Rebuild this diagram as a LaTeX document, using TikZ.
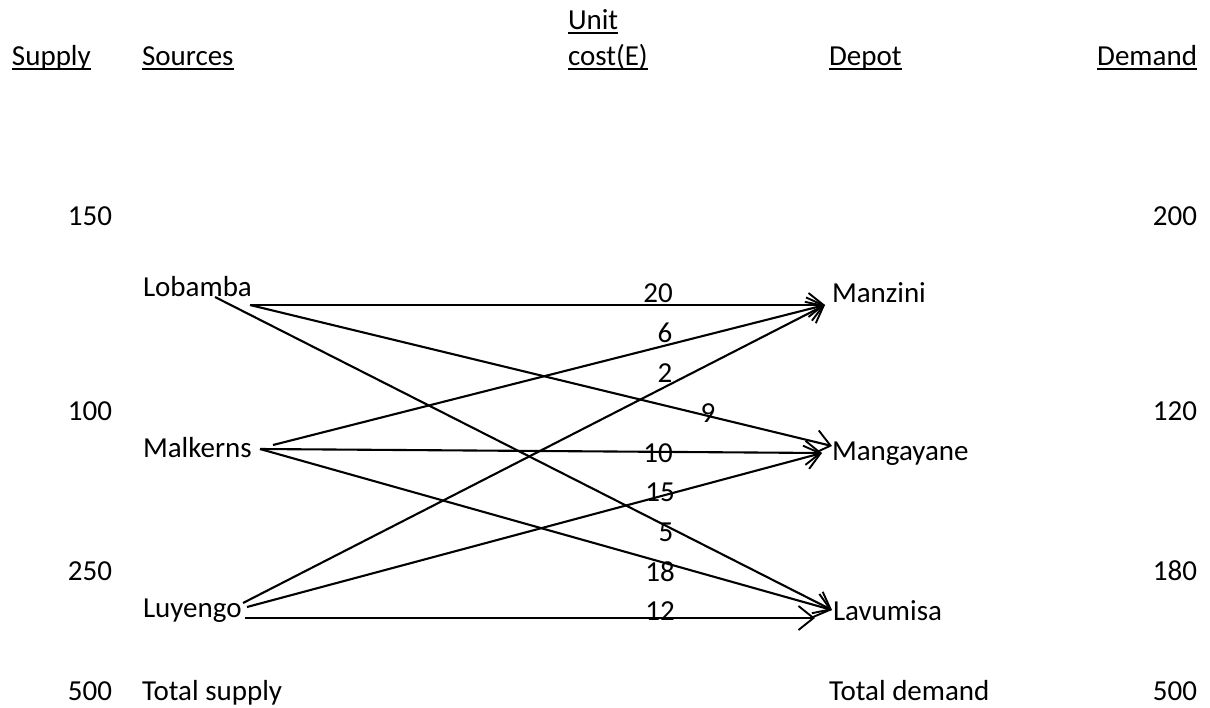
\documentclass[tikz,border=0pt]{standalone}
\usepackage{fontspec}
\setmainfont{Carlito}
\usetikzlibrary{arrows.meta}
\begin{document}
\begin{tikzpicture}[x=1pt,y=-1pt,
  every node/.style={inner sep=0pt, outer sep=0pt, font=\fontsize{29}{34}\selectfont},
  lbl/.style={anchor=base west},
  num/.style={anchor=base east},
  cost/.style={anchor=base},
  ulline/.style={line width=1.8pt},
  flow/.style={line width=2.1pt, -{Straight Barb[length=15pt,width=24pt,line width=1.9pt]}}]
\useasboundingbox (0,0) rectangle (1210,707);
% headers
\node[lbl] (hsup) at (12,65) {Supply};
\node[lbl] (hsrc) at (142,65) {Sources};
\node[lbl] (hunit) at (568,29) {Unit};
\node[lbl] (hcost) at (568,65) {cost(E)};
\node[lbl] (hdep) at (829,65) {Depot};
\node[num] (hdem) at (1197,65) {Demand};
\foreach \n in {hsup,hsrc,hunit,hcost,hdep,hdem}
  \draw[ulline] ([yshift=-4pt]\n.base west) -- ([yshift=-4pt]\n.base east);
% supply / demand numbers
\node[num] (s1) at (112,225) {150};
\node[num] (s2) at (112,420) {100};
\node[num] (s3) at (112,580) {250};
\node[num] (stot) at (112,700) {500};
\node[num] (d1) at (1197,225) {200};
\node[num] (d2) at (1197,420) {120};
\node[num] (d3) at (1197,580) {180};
\node[num] (dtot) at (1197,700) {500};
\node[lbl] (tsup) at (142,700) {Total supply};
\node[lbl] (tdem) at (829,700) {Total demand};
% sources and depots
\node[lbl] (lob) at (143,296) {Lobamba};
\node[lbl] (mal) at (143,457) {Malkerns};
\node[lbl] (luy) at (143,617) {Luyengo};
\node[lbl] (man) at (832,302) {Manzini};
\node[lbl] (mang) at (832,460) {Mangayane};
\node[lbl] (lav) at (833,620) {Lavumisa};
% connector ends
\coordinate (lobA) at (250,305);
\coordinate (lobB) at (215,297);
\coordinate (malA) at (273,445);
\coordinate (malB) at (260,449);
\coordinate (luyA) at (243,603);
\coordinate (luyB) at (247,607);
\coordinate (luyC) at (245,618);
\coordinate (manIn) at (825,305);
\coordinate (mangIn) at (822,453);
\coordinate (mangIn2) at (832,446);
\coordinate (lavIn) at (832,610);
\coordinate (lavIn2) at (815,618);
% connectors
\draw[flow] (lobA) -- (manIn);
\draw[flow] (lobA) -- (mangIn2);
\draw[flow] (lobB) -- (lavIn);
\draw[flow] (malA) -- (manIn);
\draw[flow] (malB) -- (mangIn);
\draw[flow] (malB) -- (lavIn);
\draw[flow] (luyA) -- (manIn);
\draw[flow] (luyB) -- (mangIn);
\draw[flow] (luyC) -- (lavIn2);
% unit costs
\node[cost] (c20) at (658,302) {20};
\node[cost] (c6) at (665,342) {6};
\node[cost] (c2) at (665,382) {2};
\node[cost] (c9) at (708,422) {9};
\node[cost] (c10) at (658,462) {10};
\node[cost] (c15) at (660,501) {15};
\node[cost] (c5) at (666,541) {5};
\node[cost] (c18) at (660,581) {18};
\node[cost] (c12) at (660,620) {12};
\end{tikzpicture}
\end{document}
